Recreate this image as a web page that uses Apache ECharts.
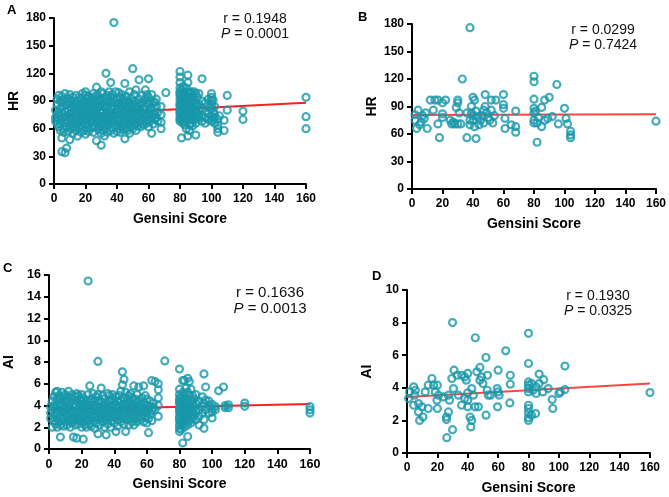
<!DOCTYPE html>
<html>
<head>
<meta charset="utf-8">
<script src="https://cdn.jsdelivr.net/npm/echarts@6/dist/echarts.min.js"></script>
<style>
  html, body { margin: 0; padding: 0; background: #fff; }
  #chart { width: 669px; height: 497px; }
</style>
</head>
<body>
<div id="chart"></div>
<script>
// Panel A: Gensini score vs HR (all patients)
const hrA = [
  [1,72],[1,80],[1,68],
  [2,75],[2,86],[2,65],[2,92],
  [3,70],[3,78],[3,96],[3,62],
  [4,82],[4,66],[4,90],[4,74],[4,58],
  [5,35],[5,50],[5,77],[5,88],[5,95],[5,69],
  [6,72],[6,84],[6,60],[6,92],[6,56],
  [7,34],[7,66],[7,79],[7,90],[7,98],
  [8,39],[8,74],[8,86],[8,62],[8,70],
  [9,81],[9,93],[9,68],[9,57],
  [10,48],[10,76],[10,88],[10,64],[10,97],[10,72],
  [11,83],[11,60],[11,70],[11,91],
  [12,66],[12,78],[12,94],[12,55],[12,86],
  [13,73],[13,89],[13,62],[13,80],
  [14,69],[14,84],[14,96],[14,58],[14,76],
  [15,52],[15,75],[15,90],[15,65],[15,82],
  [16,79],[16,87],[16,61],[16,70],[16,94],
  [17,67],[17,85],[17,74],[17,56],[17,92],
  [18,72],[18,81],[18,98],[18,63],[18,88],
  [19,58],[19,77],[19,90],[19,69],[19,84],
  [20,54],[20,74],[20,86],[20,96],[20,65],[20,80],[20,100],
  [21,70],[21,83],[21,92],[21,60],[21,76],
  [22,64],[22,78],[22,89],[22,57],[22,95],
  [23,73],[23,85],[23,68],[23,80],
  [24,61],[24,76],[24,93],[24,70],[24,87],
  [25,56],[25,79],[25,90],[25,66],[25,83],[25,98],
  [26,72],[26,86],[26,62],[26,95],[26,77],
  [27,47],[27,68],[27,81],[27,91],[27,75],[27,105],
  [28,59],[28,74],[28,88],[28,65],[28,96],
  [29,70],[29,84],[29,78],[29,62],[29,92],
  [30,42],[30,55],[30,67],[30,80],[30,90],[30,73],[30,100],
  [31,63],[31,77],[31,86],[31,98],[31,58],
  [32,71],[32,83],[32,93],[32,66],[32,52],
  [33,60],[33,76],[33,89],[33,120],[33,70],[33,84],
  [34,56],[34,73],[34,85],[34,96],[34,67],
  [35,64],[35,79],[35,90],[35,74],[35,100],
  [36,58],[36,70],[36,82],[36,94],[36,110],[36,77],
  [37,66],[37,76],[37,88],[37,61],[37,97],
  [38,72],[38,84],[38,92],[38,55],[38,175],[38,68],
  [39,63],[39,78],[39,89],[39,74],[39,100],
  [40,57],[40,69],[40,81],[40,93],[40,86],[40,75],
  [41,65],[41,77],[41,88],[41,99],[41,60],
  [42,71],[42,83],[42,94],[42,56],[42,68],
  [43,62],[43,75],[43,87],[43,80],[43,97],
  [44,59],[44,70],[44,85],[44,92],[44,66],
  [45,49],[45,64],[45,78],[45,89],[45,109],[45,73],
  [46,68],[46,81],[46,95],[46,60],[46,86],
  [47,58],[47,74],[47,90],[47,70],[47,83],
  [48,65],[48,79],[48,88],[48,100],[48,55],
  [49,71],[49,84],[49,62],[49,76],[49,93],
  [50,60],[50,73],[50,86],[50,125],[50,68],[50,80],
  [51,64],[51,78],[51,90],[51,70],[51,97],
  [52,58],[52,102],[52,75],[52,84],[52,66],
  [53,72],[53,81],[53,88],[53,63],
  [54,67],[54,79],[54,113],[54,92],[54,75],
  [55,70],[55,85],[55,62],[55,78],
  [56,74],[56,88],[56,66],[56,96],
  [57,71],[57,82],[57,64],
  [58,84],[58,102],[58,76],[58,92],[58,68],
  [59,73],[59,88],[59,66],[59,97],
  [60,114],[60,80],[60,94],[60,70],[60,86],[60,62],
  [61,76],[61,90],[61,68],
  [62,55],[62,82],[62,97],[62,72],
  [63,78],[63,88],[63,65],
  [64,89],[64,75],[64,70],
  [65,84],[65,72],[65,92],
  [66,78],[66,68],
  [68,60],[68,67],[68,75],[68,84],
  [71,99],
  [80,122],[80,116],[80,110],[80,104],[80,100],[80,96],[80,92],[80,88],[80,84],[80,80],
  [80,76],[80,72],[80,68],[80,70],[80,98],[80,86],[80,78],
  [81,102],[81,94],[81,86],[81,78],[81,70],[81,90],[81,74],[81,50],
  [82,106],[82,98],[82,88],[82,82],[82,76],[82,68],[82,92],[82,66],
  [83,100],[83,92],[83,84],[83,78],[83,72],[83,64],[83,96],
  [84,104],[84,96],[84,88],[84,80],[84,74],[84,68],[84,60],
  [85,118],[85,110],[85,100],[85,92],[85,86],[85,76],[85,70],[85,52],[85,82],
  [86,98],[86,90],[86,84],[86,78],[86,72],[86,64],[86,58],
  [87,100],[87,94],[87,86],[87,80],[87,74],[87,66],
  [88,96],[88,90],[88,82],[88,76],[88,70],[88,63],
  [89,100],[89,92],[89,86],[89,78],[89,72],
  [90,53],[90,98],[90,88],[90,80],[90,72],[90,66],
  [91,94],[91,84],[91,76],[91,70],
  [92,98],[92,86],[92,80],[92,72],
  [94,114],[94,90],[94,82],[94,74],[94,68],
  [96,88],[96,78],[96,72],[96,66],
  [98,92],[98,84],[98,70],[98,76],
  [100,98],[100,90],[100,82],[100,74],[100,68],[100,86],[100,94],
  [101,91],[101,78],[101,70],
  [102,84],[102,72],[102,66],[102,76],
  [104,56],[104,60],[104,64],[104,70],
  [105,74],
  [108,69],[108,58],
  [110,96],[110,80],
  [120,79],[120,70],
  [160,94],[160,73],[160,60]
];
const fitA = [[0, 74.2], [160, 88]];

// Panel B: Gensini score vs HR (subgroup)
const hrB = [
  [38,176],[33,120],[80,123],[80,117],[95,114],
  [2,81],[4,86],[2,75],[3,66],[5,70],[8,77],[10,66],[9,83],[6,73],[7,80],
  [12,97],[15,97],[17,97],[14,86],[20,94],[22,97],[17,71],[18,56],[20,78],[20,82],
  [25,75],[26,71],[28,71],[30,71],[30,97],[30,94],[29,89],[32,71],[31,83],[27,73],
  [36,83],[36,56],[38,75],[40,100],[41,97],[39,90],[39,83],[40,75],[41,68],[42,55],
  [43,79],[45,75],[48,103],[48,90],[49,83],[51,75],[53,72],[52,97],[55,97],[52,86],
  [44,70],[46,80],[47,72],[50,78],[42,85],[38,70],[40,80],[47,86],[54,80],
  [60,103],[60,92],[60,88],[61,77],[61,66],[65,70],[68,85],[68,68],[68,62],
  [80,98],[80,88],[80,83],[80,75],[80,72],[81,85],[82,51],[85,89],[87,97],[90,100],
  [87,75],[85,68],[89,77],[92,79],[96,71],[100,88],[101,77],[102,71],[104,63],[104,59],
  [104,56],[83,78],[82,72],[160,74]
];
const fitB = [[0, 80.8], [160, 81.5]];

// Panel C: Gensini score vs AI (all patients)
const aiC = [
  [1,3.3],[1,2.8],[1,3.9],
  [2,3.6],[2,2.0],[2,4.4],
  [3,3.0],[3,4.0],[3,2.6],[3,4.8],
  [4,3.4],[4,5.2],[4,2.3],[4,3.8],
  [5,2.8],[5,4.5],[5,3.2],[5,5.3],[5,2.0],
  [6,3.6],[6,4.1],[6,2.5],[6,4.9],
  [7,1.1],[7,3.0],[7,3.9],[7,4.6],[7,2.2],
  [8,3.4],[8,4.3],[8,2.7],[8,5.2],
  [9,2.9],[9,3.7],[9,4.8],[9,2.1],
  [10,3.2],[10,4.0],[10,2.5],[10,4.6],[10,5.0],
  [11,3.6],[11,2.2],[11,4.4],[11,2.9],
  [12,3.0],[12,3.9],[12,5.3],[12,2.6],[12,4.8],
  [13,3.4],[13,4.2],[13,2.0],[13,3.7],
  [14,2.8],[14,4.6],[14,3.2],[14,5.0],[14,2.4],
  [15,1.1],[15,3.5],[15,4.1],[15,2.7],
  [16,3.0],[16,3.9],[16,4.8],[16,2.2],
  [17,3.4],[17,4.4],[17,2.6],[17,5.1],[17,1.0],
  [18,2.9],[18,3.7],[18,4.9],[18,2.3],
  [19,3.2],[19,4.1],[19,2.6],[19,4.6],
  [20,3.6],[20,2.0],[20,4.4],[20,2.9],[20,5.0],
  [21,0.9],[21,3.3],[21,3.9],[21,2.5],[21,4.7],
  [22,3.0],[22,4.2],[22,2.2],[22,3.6],
  [23,2.7],[23,3.8],[23,4.5],[23,2.0],
  [24,15.45],[24,3.4],[24,4.0],[24,2.6],[24,5.0],
  [25,5.8],[25,3.1],[25,4.3],[25,2.3],[25,3.7],
  [26,2.8],[26,3.5],[26,4.6],[26,2.1],
  [27,3.2],[27,4.0],[27,5.1],[27,2.5],
  [28,3.6],[28,2.9],[28,4.4],[28,1.9],
  [29,3.0],[29,3.9],[29,4.8],[29,2.4],
  [30,8.05],[30,1.4],[30,3.4],[30,4.2],[30,2.7],[30,5.0],
  [31,3.1],[31,3.8],[31,4.5],[31,2.2],
  [32,5.6],[32,2.8],[32,3.6],[32,4.3],
  [33,3.3],[33,4.0],[33,2.5],[33,4.9],
  [34,3.0],[34,3.7],[34,4.6],[34,2.0],
  [35,1.3],[35,3.4],[35,4.2],[35,2.7],
  [36,3.1],[36,3.9],[36,5.1],[36,2.3],
  [37,3.6],[37,4.4],[37,2.9],[37,4.9],
  [38,3.3],[38,2.6],[38,4.0],[38,2.0],
  [39,3.0],[39,3.8],[39,4.6],[39,5.0],
  [40,3.5],[40,4.2],[40,2.4],[40,2.9],
  [41,1.6],[41,3.2],[41,4.0],[41,4.8],
  [42,3.7],[42,2.7],[42,4.4],[42,2.1],
  [43,3.0],[43,3.9],[43,4.9],[43,3.4],
  [44,3.6],[44,4.5],[44,2.5],[44,5.3],
  [45,7.1],[45,5.9],[45,3.2],[45,4.1],[45,2.8],
  [46,6.4],[46,3.8],[46,4.7],[46,2.3],[46,3.4],
  [47,1.6],[47,3.0],[47,4.2],[47,5.2],
  [48,3.6],[48,4.5],[48,2.7],[48,3.9],
  [49,3.2],[49,4.9],[49,2.2],[49,4.2],
  [50,3.7],[50,4.4],[50,2.9],[50,5.1],
  [51,3.4],[51,4.0],[51,2.5],[51,4.7],
  [52,5.8],[52,2.2],[52,3.1],[52,3.9],
  [53,3.6],[53,4.6],[53,2.8],[53,4.2],
  [54,3.3],[54,5.0],[54,2.5],[54,3.9],
  [55,3.8],[55,4.4],[55,2.9],[55,5.7],
  [56,3.5],[56,4.1],[56,2.7],
  [57,3.1],[57,4.7],[57,3.8],
  [58,5.8],[58,3.4],[58,4.3],[58,2.5],
  [59,3.7],[59,4.9],[59,2.9],
  [60,3.3],[60,4.0],[60,2.4],[60,4.6],
  [61,3.6],[61,1.5],[61,2.8],
  [62,3.9],[62,4.4],[62,3.2],
  [63,6.3],[63,3.5],[63,2.6],
  [64,3.8],[64,4.2],
  [65,6.2],[65,3.6],
  [67,6.0],[67,5.45],[67,4.7],[67,4.0],[67,3.0],
  [71,8.1],
  [80,7.35],[80,5.5],[80,5.0],[80,4.6],[80,4.2],[80,3.8],[80,3.4],[80,3.0],[80,2.6],[80,2.2],
  [80,1.9],[80,1.6],[80,4.4],[80,3.6],[80,2.8],
  [81,4.8],[81,4.0],[81,3.2],[81,2.4],[81,1.8],[81,3.6],[81,4.4],
  [82,6.3],[82,5.2],[82,4.5],[82,3.8],[82,3.0],[82,2.2],[82,0.55],[82,2.6],[82,4.1],
  [83,6.3],[83,4.9],[83,4.2],[83,3.5],[83,2.8],[83,2.0],
  [84,5.6],[84,4.6],[84,3.9],[84,3.2],[84,2.5],[84,3.7],
  [85,6.5],[85,5.2],[85,4.3],[85,3.6],[85,2.9],[85,1.15],[85,2.2],
  [86,6.2],[86,4.9],[86,4.0],[86,3.3],[86,2.6],[86,3.8],
  [87,5.5],[87,4.5],[87,3.7],[87,3.0],[87,2.4],
  [88,4.9],[88,4.1],[88,3.4],[88,2.8],
  [89,4.6],[89,3.8],[89,3.1],
  [90,5.0],[90,4.2],[90,3.5],[90,2.7],
  [92,4.4],[92,3.6],[92,2.2],[92,3.0],
  [94,4.8],[94,3.9],[94,3.3],
  [95,6.9],[95,2.7],[95,1.9],[95,4.2],
  [96,5.7],[96,3.6],[96,4.5],
  [98,4.0],[98,3.3],[98,4.4],
  [100,2.85],[100,3.7],[100,4.1],[100,3.4],
  [102,3.6],[102,3.9],
  [104,5.35],
  [107,5.7],
  [108,3.8],[108,4.0],
  [110,4.07],[110,3.8],
  [120,4.22],[120,3.92],
  [160,3.9],[160,3.6],[160,3.3]
];
const fitC = [[0, 3.61], [160, 4.13]];

// Panel D: Gensini score vs AI (subgroup)
const aiD = [
  [30,8.0],[45,7.07],[80,7.34],[65,6.27],[52,5.86],[80,5.49],[104,5.33],[31,5.08],
  [33,4.77],[36,4.77],[38,4.67],[40,4.88],[39,4.47],[46,4.98],[48,5.25],[49,4.67],
  [53,4.77],[29.5,4.57],[60,5.08],[68,4.77],[68,4.22],[48,4.47],[50,4.26],
  [87,4.84],[90,4.5],[87,4.26],[93,3.95],[95.6,3.28],[96,2.73],[100,3.65],[101,3.75],[104,3.89],
  [80,4.36],[80,4.16],[80,3.95],[80,3.75],[82,4.26],[83,3.85],[85,4.06],[85,3.65],
  [80,2.93],[80,2.73],[80,2.46],[80,2.17],[80,2.0],[82,2.32],[84.7,2.42],[89.5,3.75],
  [1.7,3.75],[4.4,4.06],[5.5,3.85],[1,3.34],[5,3.55],[4.4,2.93],[7.6,3.03],[7.6,2.52],
  [8.3,2.0],[10.5,2.21],[9.8,2.83],[12,3.75],[14,4.16],[16.4,4.57],[17.5,4.16],[20,4.16],
  [18.6,3.75],[20.7,3.55],[19.7,3.24],[20,2.73],[14,2.73],[24,3.44],[27.3,3.55],[28,3.24],
  [27.3,2.52],[26,2.21],[26,2.05],[30,1.43],[26.2,0.94],[30.6,3.95],[33.8,3.55],[36,2.93],
  [38,3.34],[40,3.69],[40,3.24],[40,2.83],[41.5,2.21],[42.6,2.0],[42,1.6],[43.7,3.55],
  [44.8,2.83],[47,2.83],[42.6,3.95],[52,2.32],[52.8,3.85],[53.5,3.55],[55,3.55],
  [59.4,3.95],[60,3.75],[60.7,3.55],[59.6,2.83],[67.7,3.07],[160,3.71]
];
const fitD = [[0, 3.43], [160, 4.27]];

const xTicks = { min: 0, max: 160, interval: 20 };
const hrTicks = { min: 0, max: 180, interval: 30 };
const aiTicksC = { min: 0, max: 16, interval: 2 };
const aiTicksD = { min: 0, max: 10, interval: 2 };

const FONT = "'Liberation Sans', Arial, sans-serif";
const TEAL = '#1897AA';
const RED = '#FF1E1E';

function axisBase(labelSize) {
  return {
    axisLine: { lineStyle: { color: '#000', width: 2 } },
    axisTick: { length: 5, lineStyle: { color: '#000', width: 2 } },
    axisLabel: { color: '#000', fontWeight: 'bold', fontSize: labelSize, fontFamily: FONT },
    splitLine: { show: false },
    nameLocation: 'middle',
    nameTextStyle: { color: '#000', fontWeight: 'bold', fontSize: 14, fontFamily: FONT }
  };
}

function xAxis(idx, ticks, size) {
  const a = axisBase(size);
  a.axisLabel.margin = 9;
  return Object.assign(a, { type: 'value', gridIndex: idx, name: 'Gensini Score', nameGap: 28 }, ticks);
}
function yAxis(idx, name, ticks, size) {
  const a = axisBase(size);
  a.axisLabel.margin = 8;
  return Object.assign(a, { type: 'value', gridIndex: idx, name: name, nameGap: 33 }, ticks);
}

function scatter(idx, data) {
  return {
    type: 'scatter', xAxisIndex: idx, yAxisIndex: idx, data: data, z: 3,
    symbol: 'circle', symbolSize: 7,
    itemStyle: { color: 'rgba(255,255,255,0)', borderColor: TEAL, borderWidth: 2.2 },
    emphasis: { disabled: true }
  };
}
function fit(idx, data, color) {
  return {
    type: 'line', xAxisIndex: idx, yAxisIndex: idx, data: data, z: 2,
    symbol: 'none', lineStyle: { color: color, width: 2 }, silent: true
  };
}

function stat(x, y, r, p, size) {
  const base = { fontFamily: FONT, fontSize: size, fill: '#111', textAlign: 'center', textVerticalAlign: 'middle' };
  return [
    { type: 'text', x: x, y: y, style: Object.assign({ text: 'r = ' + r }, base) },
    { type: 'text', x: x, y: y + size + 1,
      style: Object.assign({ text: '{i|P} = ' + p, rich: { i: { fontStyle: 'italic', fontFamily: FONT, fontSize: size } } }, base) }
  ];
}
function letter(x, y, t) {
  return { type: 'text', x: x, y: y, style: { text: t, fontFamily: FONT, fontSize: 13, fontWeight: 'bold', fill: '#000' } };
}

const chart = echarts.init(document.getElementById('chart'));
chart.setOption({
  animation: false,
  backgroundColor: '#fff',
  grid: [
    { left: 54, top: 18, width: 252, height: 166 },
    { left: 412, top: 24, width: 246, height: 165 },
    { left: 49, top: 275, width: 261, height: 174 },
    { left: 407, top: 290, width: 243, height: 163 }
  ],
  xAxis: [xAxis(0, xTicks, 12), xAxis(1, xTicks, 12), xAxis(2, xTicks, 12.5), xAxis(3, xTicks, 12)],
  yAxis: [yAxis(0, 'HR', hrTicks, 12), yAxis(1, 'HR', hrTicks, 12), yAxis(2, 'AI', aiTicksC, 12.5), yAxis(3, 'AI', aiTicksD, 12)],
  series: [
    fit(0, fitA, RED), scatter(0, hrA),
    fit(1, fitB, '#FF4444'), scatter(1, hrB),
    fit(2, fitC, RED), scatter(2, aiC),
    fit(3, fitD, '#FF4444'), scatter(3, aiD)
  ],
  graphic: [
    letter(7, 4, 'A'), letter(358, 11, 'B'), letter(3, 262, 'C'), letter(372, 270, 'D')
  ].concat(
    stat(255, 19, '0.1948', '0.0001', 14),
    stat(603, 30, '0.0299', '0.7424', 14),
    stat(270, 293, '0.1636', '0.0013', 15),
    stat(598, 296, '0.1930', '0.0325', 14)
  )
});
</script>
</body>
</html>
